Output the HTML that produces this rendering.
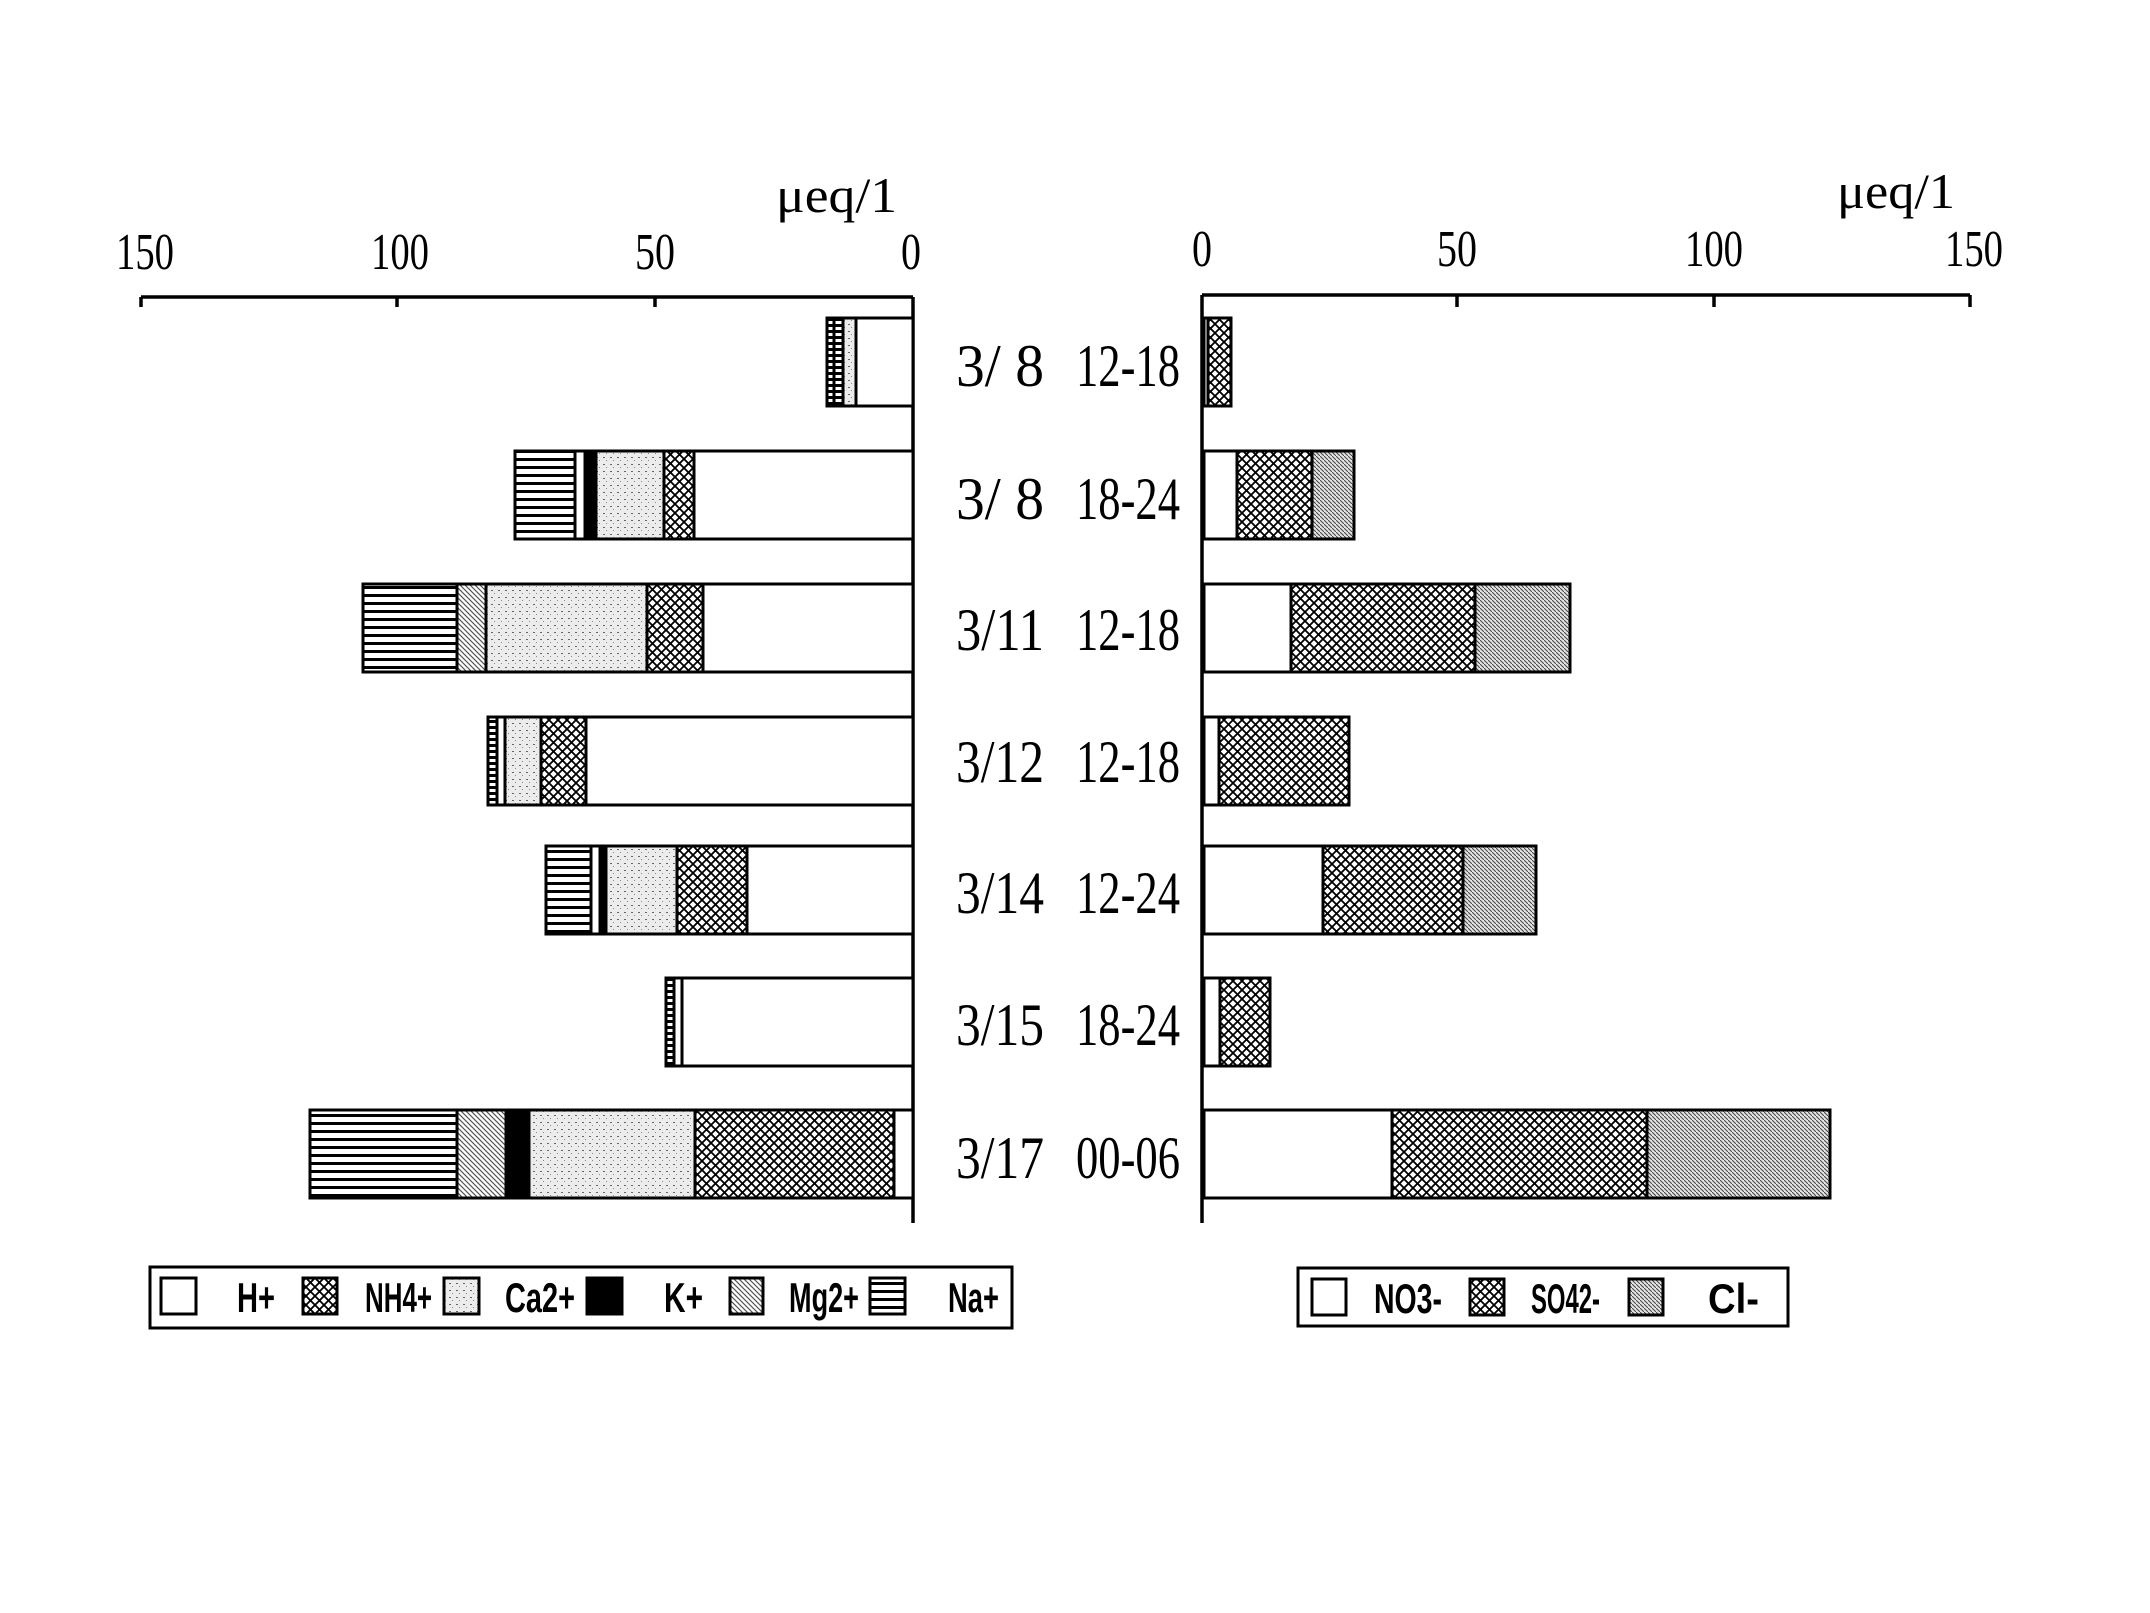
<!DOCTYPE html>
<html><head><meta charset="utf-8"><style>html,body{margin:0;padding:0;background:#fff}svg{display:block}</style></head>
<body>
<svg width="2150" height="1613" viewBox="0 0 2150 1613" xmlns="http://www.w3.org/2000/svg">
<defs>
<pattern id="nh4" width="9" height="9" patternUnits="userSpaceOnUse"><rect width="9" height="9" fill="#fff"/><path d="M0,0L9,9M9,0L0,9" stroke="#000" stroke-width="1.8"/></pattern>
<pattern id="ca" width="7" height="7" patternUnits="userSpaceOnUse"><rect width="7" height="7" fill="#ececec"/><rect x="1" y="2" width="2" height="1" fill="#666"/><rect x="4" y="5" width="1" height="1" fill="#888"/></pattern>
<pattern id="mg" width="5" height="5" patternUnits="userSpaceOnUse"><rect width="5" height="5" fill="#fff"/><path d="M0,0L5,5M-1,4L1,6M4,-1L6,1" stroke="#555" stroke-width="1.2"/></pattern>
<pattern id="na" width="8" height="8" patternUnits="userSpaceOnUse"><rect width="8" height="8" fill="#fff"/><rect y="2" width="8" height="3" fill="#000"/></pattern>
<pattern id="cl" width="4" height="4" patternUnits="userSpaceOnUse"><rect width="4" height="4" fill="#e4e4e4"/><path d="M0,0L4,4" stroke="#444" stroke-width="1"/></pattern>
<pattern id="dot" width="4" height="6" patternUnits="userSpaceOnUse"><rect width="4" height="6" fill="#fff"/><rect width="4" height="3" fill="#000"/></pattern>
</defs>
<g font-family="Liberation Serif, serif" fill="#000">
<path d="M141,297H913M141,297V307M397,297V307M655,297V307M913,297V1223" stroke="#000" stroke-width="3.5" fill="none"/>
<path d="M1202,295H1970M1457,295V307M1714,295V307M1970,295V307M1202,295V1223" stroke="#000" stroke-width="3.5" fill="none"/>
<g font-size="52" text-anchor="middle">
<text x="145" y="269" textLength="58" lengthAdjust="spacingAndGlyphs">150</text>
<text x="400" y="269" textLength="58" lengthAdjust="spacingAndGlyphs">100</text>
<text x="655" y="269" textLength="40" lengthAdjust="spacingAndGlyphs">50</text>
<text x="911" y="269" textLength="20" lengthAdjust="spacingAndGlyphs">0</text>
<text x="1202" y="266" textLength="20" lengthAdjust="spacingAndGlyphs">0</text>
<text x="1457" y="266" textLength="40" lengthAdjust="spacingAndGlyphs">50</text>
<text x="1714" y="266" textLength="58" lengthAdjust="spacingAndGlyphs">100</text>
<text x="1974" y="266" textLength="58" lengthAdjust="spacingAndGlyphs">150</text>
</g>
<g font-size="50">
<text x="776" y="212" textLength="121" lengthAdjust="spacingAndGlyphs">μeq/1</text>
<text x="1837" y="208" textLength="118" lengthAdjust="spacingAndGlyphs">μeq/1</text>
</g>
<g font-size="60">
<text x="956" y="386" textLength="88" lengthAdjust="spacingAndGlyphs">3/ 8</text><text x="1076" y="386" textLength="104" lengthAdjust="spacingAndGlyphs">12-18</text>
<text x="956" y="519" textLength="88" lengthAdjust="spacingAndGlyphs">3/ 8</text><text x="1076" y="519" textLength="104" lengthAdjust="spacingAndGlyphs">18-24</text>
<text x="956" y="650" textLength="88" lengthAdjust="spacingAndGlyphs">3/11</text><text x="1076" y="650" textLength="104" lengthAdjust="spacingAndGlyphs">12-18</text>
<text x="956" y="782" textLength="88" lengthAdjust="spacingAndGlyphs">3/12</text><text x="1076" y="782" textLength="104" lengthAdjust="spacingAndGlyphs">12-18</text>
<text x="956" y="913" textLength="88" lengthAdjust="spacingAndGlyphs">3/14</text><text x="1076" y="913" textLength="104" lengthAdjust="spacingAndGlyphs">12-24</text>
<text x="956" y="1045" textLength="88" lengthAdjust="spacingAndGlyphs">3/15</text><text x="1076" y="1045" textLength="104" lengthAdjust="spacingAndGlyphs">18-24</text>
<text x="956" y="1178" textLength="88" lengthAdjust="spacingAndGlyphs">3/17</text><text x="1076" y="1178" textLength="104" lengthAdjust="spacingAndGlyphs">00-06</text>
</g>
</g>
<g stroke="#000" stroke-width="3">
<rect x="856" y="318" width="57" height="88" fill="#fff"/>
<rect x="843" y="318" width="13" height="88" fill="url(#ca)"/>
<rect x="834" y="318" width="9" height="88" fill="url(#dot)"/>
<rect x="827" y="318" width="7" height="88" fill="url(#dot)"/>
<rect x="694" y="451" width="219" height="88" fill="#fff"/>
<rect x="664" y="451" width="30" height="88" fill="url(#nh4)"/>
<rect x="596" y="451" width="68" height="88" fill="url(#ca)"/>
<rect x="585" y="451" width="11" height="88" fill="#000"/>
<rect x="575" y="451" width="10" height="88" fill="#fff"/>
<rect x="515" y="451" width="60" height="88" fill="url(#na)"/>
<rect x="703" y="584" width="210" height="88" fill="#fff"/>
<rect x="647" y="584" width="56" height="88" fill="url(#nh4)"/>
<rect x="486" y="584" width="161" height="88" fill="url(#ca)"/>
<rect x="457" y="584" width="29" height="88" fill="url(#mg)"/>
<rect x="363" y="584" width="94" height="88" fill="url(#na)"/>
<rect x="586" y="717" width="327" height="88" fill="#fff"/>
<rect x="541" y="717" width="45" height="88" fill="url(#nh4)"/>
<rect x="505" y="717" width="36" height="88" fill="url(#ca)"/>
<rect x="497" y="717" width="8" height="88" fill="#fff"/>
<rect x="488" y="717" width="9" height="88" fill="url(#dot)"/>
<rect x="747" y="846" width="166" height="88" fill="#fff"/>
<rect x="677" y="846" width="70" height="88" fill="url(#nh4)"/>
<rect x="606" y="846" width="71" height="88" fill="url(#ca)"/>
<rect x="600" y="846" width="6" height="88" fill="#000"/>
<rect x="591" y="846" width="9" height="88" fill="#fff"/>
<rect x="546" y="846" width="45" height="88" fill="url(#na)"/>
<rect x="682" y="978" width="231" height="88" fill="#fff"/>
<rect x="674" y="978" width="8" height="88" fill="#fff"/>
<rect x="666" y="978" width="8" height="88" fill="url(#dot)"/>
<rect x="894" y="1110" width="19" height="88" fill="#fff"/>
<rect x="695" y="1110" width="199" height="88" fill="url(#nh4)"/>
<rect x="529" y="1110" width="166" height="88" fill="url(#ca)"/>
<rect x="506" y="1110" width="23" height="88" fill="#000"/>
<rect x="457" y="1110" width="49" height="88" fill="url(#mg)"/>
<rect x="310" y="1110" width="147" height="88" fill="url(#na)"/>
<rect x="1204" y="318" width="4" height="88" fill="#fff"/>
<rect x="1208" y="318" width="23" height="88" fill="url(#nh4)"/>
<rect x="1204" y="451" width="33" height="88" fill="#fff"/>
<rect x="1237" y="451" width="75" height="88" fill="url(#nh4)"/>
<rect x="1312" y="451" width="42" height="88" fill="url(#cl)"/>
<rect x="1204" y="584" width="87" height="88" fill="#fff"/>
<rect x="1291" y="584" width="184" height="88" fill="url(#nh4)"/>
<rect x="1475" y="584" width="95" height="88" fill="url(#cl)"/>
<rect x="1204" y="717" width="15" height="88" fill="#fff"/>
<rect x="1219" y="717" width="130" height="88" fill="url(#nh4)"/>
<rect x="1204" y="846" width="119" height="88" fill="#fff"/>
<rect x="1323" y="846" width="140" height="88" fill="url(#nh4)"/>
<rect x="1463" y="846" width="73" height="88" fill="url(#cl)"/>
<rect x="1204" y="978" width="16" height="88" fill="#fff"/>
<rect x="1220" y="978" width="50" height="88" fill="url(#nh4)"/>
<rect x="1204" y="1110" width="188" height="88" fill="#fff"/>
<rect x="1392" y="1110" width="255" height="88" fill="url(#nh4)"/>
<rect x="1647" y="1110" width="183" height="88" fill="url(#cl)"/>
<rect x="150" y="1267" width="862" height="61" fill="#fff"/>
<rect x="161" y="1278" width="35" height="36" fill="#fff"/>
<rect x="303" y="1278" width="34" height="36" fill="url(#nh4)"/>
<rect x="444" y="1278" width="35" height="36" fill="url(#ca)"/>
<rect x="587" y="1278" width="35" height="36" fill="#000"/>
<rect x="730" y="1278" width="33" height="36" fill="url(#mg)"/>
<rect x="870" y="1278" width="35" height="36" fill="url(#na)"/>
<rect x="1298" y="1268" width="490" height="58" fill="#fff"/>
<rect x="1312" y="1279" width="34" height="36" fill="#fff"/>
<rect x="1470" y="1279" width="34" height="36" fill="url(#nh4)"/>
<rect x="1629" y="1279" width="34" height="36" fill="url(#cl)"/>
</g>
<g font-family="Liberation Sans, sans-serif" font-size="42" font-weight="bold">
<text x="237" y="1312" textLength="38" lengthAdjust="spacingAndGlyphs">H+</text>
<text x="365" y="1312" textLength="67" lengthAdjust="spacingAndGlyphs">NH4+</text>
<text x="505" y="1312" textLength="70" lengthAdjust="spacingAndGlyphs">Ca2+</text>
<text x="664" y="1312" textLength="39" lengthAdjust="spacingAndGlyphs">K+</text>
<text x="789" y="1312" textLength="70" lengthAdjust="spacingAndGlyphs">Mg2+</text>
<text x="948" y="1312" textLength="51" lengthAdjust="spacingAndGlyphs">Na+</text>
<text x="1374" y="1313" textLength="68" lengthAdjust="spacingAndGlyphs">NO3-</text>
<text x="1531" y="1313" textLength="69" lengthAdjust="spacingAndGlyphs">SO42-</text>
<text x="1708" y="1313" textLength="51" lengthAdjust="spacingAndGlyphs">Cl-</text>
</g>
</svg>
</body></html>
